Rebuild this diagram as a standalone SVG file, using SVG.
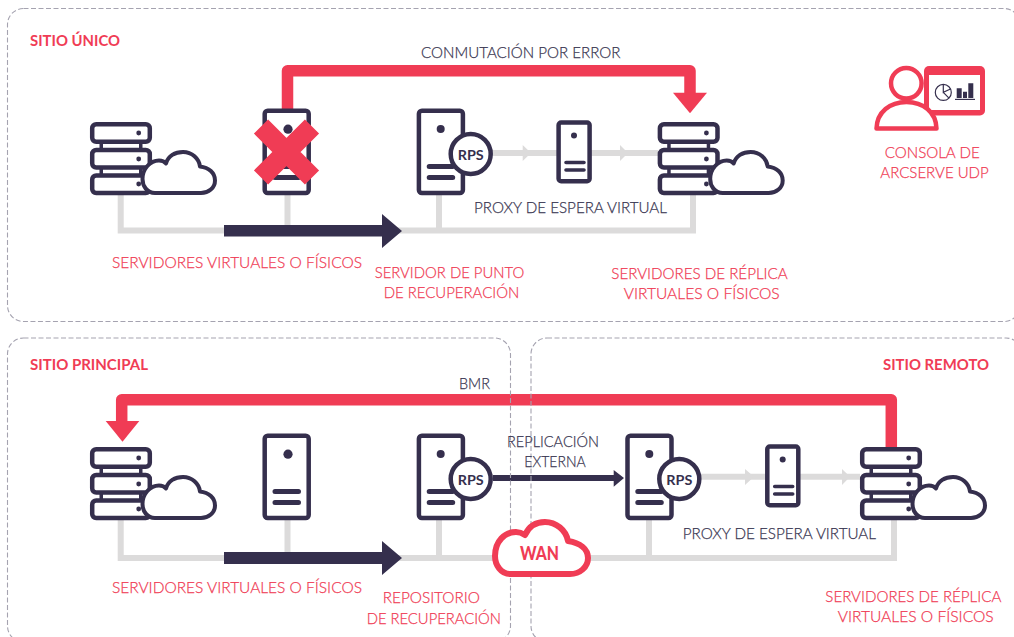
<svg xmlns="http://www.w3.org/2000/svg" width="1014" height="637" viewBox="0 0 1014 637">
<style>
text{font-family:"Lato","Liberation Sans",sans-serif}
.t{font-size:16px;font-weight:300;fill:#3a3752;stroke:#3a3752;stroke-width:.25}
.r{font-size:16px;font-weight:300;fill:#f03c55;stroke:#f03c55;stroke-width:.25}
.h{font-size:15px;font-weight:700;fill:#f03c55}
.rps{font-size:14px;font-weight:700;fill:#352f4d}
.frame{fill:none;stroke:#a5a3b0;stroke-width:1.1;stroke-dasharray:5 2.5}
.g{fill:none;stroke:#dcdbdb;stroke-width:6}
.gh{fill:#dcdbdb}
.d{fill:#352f4d}
.rd{fill:#f03c55}
.redl{fill:none;stroke:#f03c55;stroke-width:11.5;stroke-linejoin:round}
.box{fill:#fff;stroke:#352f4d;stroke-width:4.5;stroke-linejoin:round}
.bar{stroke:#352f4d;stroke-linecap:round;fill:none}
</style>
<defs>
<g id="stack">
<path class="d" d="M9.500 20H13V29H9.500ZM49 20H52.500V29H49ZM9.500 45.500H13V54.500H9.500ZM49 45.500H52.500V54.500H49Z"/>
<rect class="box" x="2.200" y="2.200" width="57.600" height="17.600" rx="4"/>
<rect class="box" x="2.200" y="28" width="57.600" height="17.600" rx="4"/>
<rect class="box" x="2.200" y="53.500" width="57.600" height="17.600" rx="4"/>
<circle class="d" cx="48.700" cy="11" r="2.400"/><circle class="d" cx="48.700" cy="37" r="2.400"/><circle class="d" cx="48.700" cy="62" r="2.400"/>
<path d="M65 71C57 71 52.500 64 52.500 57C52.500 47 60 38.500 69 38.500C72 38.500 74 39 76 41.500C78 34 85 30 93 30C102 30 109 36.500 110 44.500C119 45.500 125 51 125 58.500C125 66 118.500 71 111 71Z" fill="#fff" stroke="#352f4d" stroke-width="4" stroke-linejoin="round"/>
</g>
<g id="tower">
<rect class="box" x="2.200" y="2.200" width="44" height="82.400" rx="3"/>
<circle class="d" cx="25.500" cy="20.700" r="4.600"/>
<path class="bar" stroke-width="5" d="M12.500 58H36M12.500 69H36"/>
</g>
<g id="rpstower">
<rect class="box" x="2.200" y="2.200" width="44" height="82.400" rx="3"/>
<circle class="d" cx="24" cy="20.500" r="4"/>
<path class="bar" stroke-width="5" d="M12.500 58H36M12.500 69H36"/>
<circle cx="54" cy="45.500" r="20" fill="#fff" stroke="#352f4d" stroke-width="4.500"/>
<text class="rps" x="41" y="51" textLength="26" lengthAdjust="spacingAndGlyphs">RPS</text>
</g>
<g id="small">
<rect class="box" x="1.600" y="1.600" width="31" height="58.600" rx="2.500"/>
<circle class="d" cx="17" cy="14.500" r="3"/>
<path class="bar" stroke-width="3.600" d="M9 41.500H27M9 49H27"/>
</g>
</defs>

<g id="connectors">
<path class="g" d="M120.700 195V230.500H693V195M287.500 195V230.500M439 195V230.500"/>
<path class="g" d="M490 153H658"/>
<path class="gh" d="M522.700 145L531 153L522.700 161ZM620 145L628 153L620 161Z"/>
<path class="d" d="M224 225H382V214L402 231L382 248V236.500H224Z"/>
<path class="redl" d="M287.500 110V70.700H690V93"/>
<path class="rd" d="M673 92.700H707L690 113.300Z"/>

<path class="g" d="M120.700 520V558H600M287.500 520V558M439 520V558"/>
<path class="g" d="M580 558H894V520M649 520V558"/>
<path class="g" d="M700 476.700H860"/>
<path class="gh" d="M745 469L754 476.700L745 485ZM842 469L850 476.700L842 485Z"/>
<path class="d" d="M224 552H382V541L402 558L382 575V564H224Z"/>
<path class="redl" d="M891.300 449V399.700H121.700V422"/>
<path class="rd" d="M105.700 421H139.300L122.500 441.700Z"/>
<path class="d" d="M493 475H613.700V470L624 478L613.700 486.700V481H493Z"/>
</g>

<g id="node-source-1"><use href="#stack" x="90" y="122"/></g>
<g id="node-failed"><use href="#tower" x="262.500" y="108.500"/>
<path fill="none" stroke="#f03c55" stroke-width="20" d="M261 126.500L312 177.500M312 126.500L261 177.500"/></g>
<g id="node-rps-1"><use href="#rpstower" x="416.700" y="108.500"/></g>
<g id="node-proxy-1"><use href="#small" x="557" y="121"/></g>
<g id="node-replica-1"><use href="#stack" x="657.700" y="122"/></g>
<g id="node-console">
<rect class="rd" x="924" y="66" width="61" height="49.500" rx="5"/>
<rect x="929" y="75" width="51" height="35" fill="#fff"/>
<circle cx="906.300" cy="83.300" r="15.300" fill="#fff" stroke="#f03c55" stroke-width="4.500"/>
<path d="M876.500 128.500C877 112 890 102 906.500 102C923 102 936 112 936.500 128.500Z" fill="#fff" stroke="#f03c55" stroke-width="4.500" stroke-linejoin="round"/>
<g fill="none" stroke="#352f4d" stroke-width="1.200"><circle cx="943.300" cy="92.400" r="8"/><path d="M943.300 84.400V92.400L950.500 89M943.300 92.400L949 98.200"/><path d="M955 99.400H975"/></g>
<path class="d" d="M956.700 88.300H961.700V98H956.700ZM963 91.700H967V98H963ZM968.300 83.300H973.300V98H968.300Z"/>
</g>

<g id="node-source-2"><use href="#stack" x="90" y="447"/></g>
<g id="node-physical-2"><use href="#tower" x="262.500" y="433.500"/></g>
<g id="node-rps-2"><use href="#rpstower" x="416.700" y="433.500"/></g>
<g id="node-rps-3"><use href="#rpstower" x="625.300" y="433.500"/></g>
<g id="node-proxy-2"><use href="#small" x="765.700" y="445"/></g>
<g id="node-replica-2"><use href="#stack" x="860" y="447"/></g>

<g id="frames">
<rect class="frame" x="7.500" y="8.500" width="1012.500" height="313" rx="16"/>
<rect class="frame" x="7.500" y="338" width="503" height="304" rx="16"/>
<rect class="frame" x="531" y="338" width="491" height="304" rx="16"/>
</g>

<g id="node-wan">
<path d="M510 574C501 574 495 565 495 556C495 541 505 532 516 532C519 532 522 533 525 535C529 526 536 522 545 522C556 522 566 530 568 541C580 543 588 549 588 558C588 567 580 574 570 574Z" fill="#fff" stroke="#f03c55" stroke-width="6" stroke-linejoin="round"/>
<text x="520" y="559.500" font-size="18.500" font-weight="900" fill="#f03c55" textLength="39" lengthAdjust="spacingAndGlyphs">WAN</text>
</g>

<g id="labels">
<text class="h" x="30" y="45.500" textLength="90" lengthAdjust="spacingAndGlyphs">SITIO ÚNICO</text>
<text class="h" x="30" y="370" textLength="118" lengthAdjust="spacingAndGlyphs">SITIO PRINCIPAL</text>
<text class="h" x="883" y="370" textLength="106" lengthAdjust="spacingAndGlyphs">SITIO REMOTO</text>
<text class="t" x="421" y="58" textLength="199.500" lengthAdjust="spacingAndGlyphs">CONMUTACIÓN POR ERROR</text>
<text class="t" x="474" y="212.500" textLength="193" lengthAdjust="spacingAndGlyphs">PROXY DE ESPERA VIRTUAL</text>
<text class="t" x="682.700" y="539" textLength="193.300" lengthAdjust="spacingAndGlyphs">PROXY DE ESPERA VIRTUAL</text>
<text class="t" x="459" y="389" textLength="31" lengthAdjust="spacingAndGlyphs">BMR</text>
<text class="t" x="507" y="447" textLength="92" lengthAdjust="spacingAndGlyphs">REPLICACIÓN</text>
<text class="t" x="524.300" y="467" textLength="61.400" lengthAdjust="spacingAndGlyphs">EXTERNA</text>
<text class="r" x="112" y="268" textLength="250" lengthAdjust="spacingAndGlyphs">SERVIDORES VIRTUALES O FÍSICOS</text>
<text class="r" x="112" y="593" textLength="250" lengthAdjust="spacingAndGlyphs">SERVIDORES VIRTUALES O FÍSICOS</text>
<text class="r" x="374.700" y="278" textLength="149.600" lengthAdjust="spacingAndGlyphs">SERVIDOR DE PUNTO</text>
<text class="r" x="383.700" y="298" textLength="135.600" lengthAdjust="spacingAndGlyphs">DE RECUPERACIÓN</text>
<text class="r" x="611.300" y="279" textLength="176.400" lengthAdjust="spacingAndGlyphs">SERVIDORES DE RÉPLICA</text>
<text class="r" x="623.700" y="299" textLength="156" lengthAdjust="spacingAndGlyphs">VIRTUALES O FÍSICOS</text>
<text class="r" x="884.700" y="158" textLength="95" lengthAdjust="spacingAndGlyphs">CONSOLA DE</text>
<text class="r" x="880.300" y="178" textLength="108.400" lengthAdjust="spacingAndGlyphs">ARCSERVE UDP</text>
<text class="r" x="382.700" y="603" textLength="97.300" lengthAdjust="spacingAndGlyphs">REPOSITORIO</text>
<text class="r" x="366.700" y="624" textLength="134.300" lengthAdjust="spacingAndGlyphs">DE RECUPERACIÓN</text>
<text class="r" x="825.300" y="602" textLength="176" lengthAdjust="spacingAndGlyphs">SERVIDORES DE RÉPLICA</text>
<text class="r" x="837.700" y="622" textLength="156" lengthAdjust="spacingAndGlyphs">VIRTUALES O FÍSICOS</text>
</g>
</svg>
